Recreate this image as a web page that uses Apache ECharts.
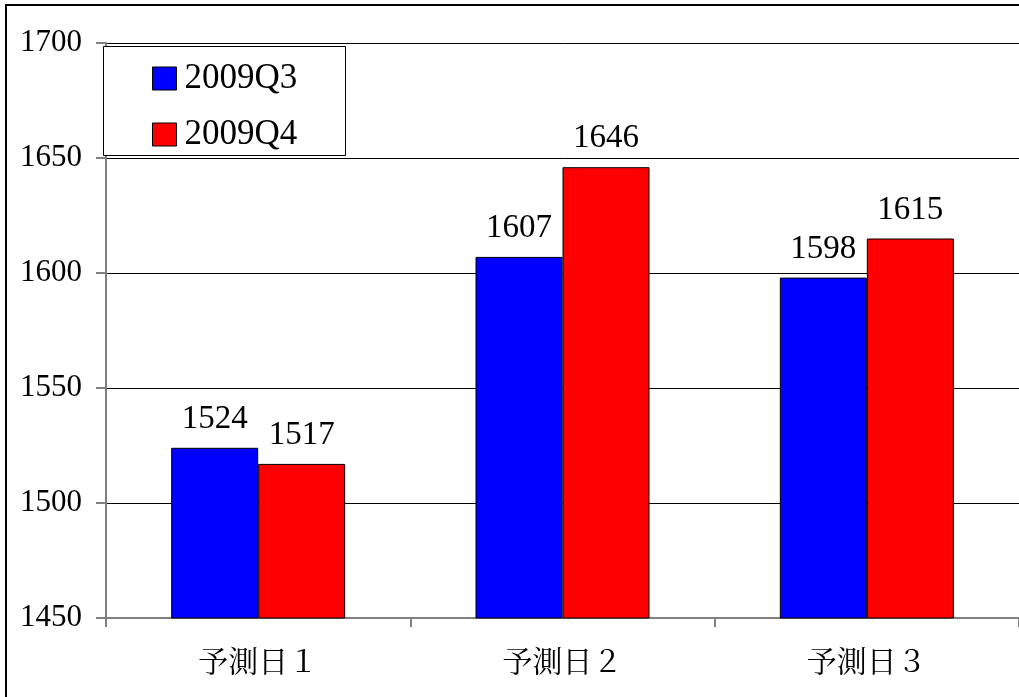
<!DOCTYPE html>
<html><head><meta charset="utf-8">
<script src="https://cdn.jsdelivr.net/npm/echarts@6/dist/echarts.min.js"></script>
<style>html,body{margin:0;padding:0;background:#fff}#c{width:1019px;height:697px}</style>
</head><body><div id="c"></div>
<script>
const categories = ['予測日１', '予測日２', '予測日３'];
const seriesNames = ['2009Q3', '2009Q4'];
const q3Values = [1524, 1607, 1598];
const q4Values = [1517, 1646, 1615];
const yTicks = [1450, 1500, 1550, 1600, 1650, 1700];

const serif = '"Liberation Serif", "Times New Roman", "Noto Serif CJK JP", "Noto Sans CJK JP", serif';
const chart = echarts.init(document.getElementById('c'));
const labelStyle = {show: true, position: 'top', distance: 12, fontFamily: serif, fontSize: 33, color: '#000'};
chart.setOption({
  animation: false,
  backgroundColor: '#fff',
  grid: {left: 106, top: 43, right: -2, bottom: 79, containLabel: false},
  xAxis: {
    type: 'category', data: categories,
    axisLine: {lineStyle: {color: '#808080', width: 2}},
    axisTick: {show: true, length: 9, lineStyle: {color: '#808080', width: 2}},
    axisLabel: {fontFamily: serif, fontSize: 30, color: '#000', margin: 31}
  },
  yAxis: {
    type: 'value', min: yTicks[0], max: yTicks[yTicks.length - 1], interval: 50,
    axisLine: {show: true, lineStyle: {color: '#808080', width: 2}},
    axisTick: {show: true, length: 10, lineStyle: {color: '#808080', width: 2}},
    axisLabel: {fontFamily: serif, fontSize: 31, color: '#000', margin: 24, formatter: v => String(v)},
    splitLine: {show: true, lineStyle: {color: '#000', width: 1}}
  },
  legend: {
    orient: 'vertical', left: 147, top: 56, itemWidth: 24, itemHeight: 23, itemGap: 21,
    icon: 'rect',
    data: seriesNames,
    itemStyle: {borderColor: '#000', borderWidth: 1},
    textStyle: {fontFamily: serif, fontSize: 35, color: '#000', lineHeight: 34, padding: [0, 0, 0, 3]},
    z: 20
  },
  graphic: [
    {type: 'rect', z: 10, shape: {x: 103.5, y: 46.5, width: 242, height: 109}, style: {fill: '#fff', stroke: '#000', lineWidth: 1}},
    {type: 'rect', z: 30, shape: {x: 6, y: 5, width: 1200, height: 1000}, style: {fill: 'none', stroke: '#000', lineWidth: 2}}
  ],
  series: [
    {name: seriesNames[0], type: 'bar', data: q3Values, barWidth: 87, barGap: '0%',
     itemStyle: {color: '#0000ff', borderColor: '#000', borderWidth: 1}, label: labelStyle},
    {name: seriesNames[1], type: 'bar', data: q4Values, barWidth: 87, barGap: '0%',
     itemStyle: {color: '#ff0000', borderColor: '#000', borderWidth: 1}, label: labelStyle}
  ]
});
</script></body></html>
